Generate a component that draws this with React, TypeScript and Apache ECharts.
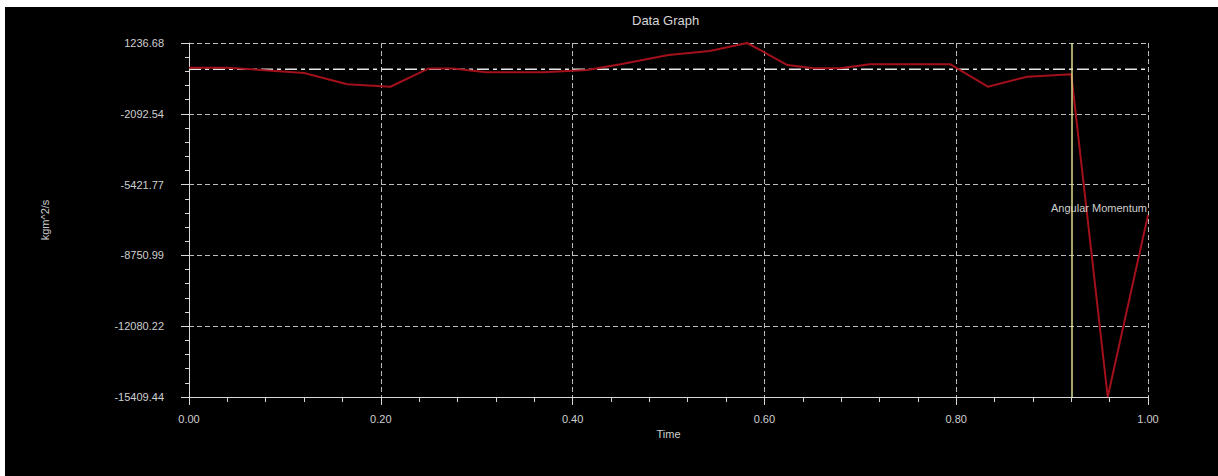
import { useEffect, useRef } from "react";
import * as echarts from "echarts";

// Time samples (s) and angular momentum readings (kg·m^2/s)
const times = [
  0, 0.04, 0.065, 0.12, 0.165, 0.21, 0.25, 0.275, 0.31, 0.37, 0.415, 0.45, 0.5,
  0.543, 0.582, 0.624, 0.651, 0.679, 0.71, 0.794, 0.833, 0.874, 0.92, 0.958, 1.0,
];
const momentum = [
  75, 70, 0, -170, -700, -820, 40, 40, -140, -140, -30, 235, 672, 860, 1236.68,
  200, 47, 47, 235, 235, -818, -348, -235, -15409.44, -6850,
];

// Axis extent: the y axis spans the data range in five equal steps
const yMin = -15409.44;
const yMax = 1236.68;
const yDivisions = 5;
const xTicks = { min: 0, max: 1, step: 0.2 };

const baselineValue = 0;
const cursorTime = 0.915;
const seriesName = "Angular Momentum";

const FONT = "Liberation Sans, Arial, sans-serif";
const TEXT = "#cfcfcf";

export default function App() {
  const ref = useRef<HTMLDivElement>(null);

  useEffect(() => {
    if (!ref.current) return;
    const chart = echarts.init(ref.current, null, { renderer: "svg" });

    // values are measured from the bottom of the y range so ticks start at yMin
    const span = yMax - yMin;
    const shift = (v: number) => v - yMin;
    const lineData = times.map((t, i) => [t, shift(momentum[i])]);

    chart.setOption({
      animation: false,
      backgroundColor: "#000000",
      title: {
        text: "Data Graph",
        left: 627,
        top: 7,
        padding: 0,
        textStyle: { color: "#d6d6d6", fontSize: 13, fontWeight: "normal", fontFamily: FONT },
      },
      grid: { left: 184, top: 36, width: 959, height: 354, containLabel: false },
      xAxis: {
        type: "value",
        min: xTicks.min,
        max: xTicks.max,
        interval: xTicks.step,
        offset: 5,
        name: "Time",
        nameLocation: "middle",
        nameGap: 26,
        nameTextStyle: { color: TEXT, fontSize: 11, fontFamily: FONT },
        axisLine: { show: true, lineStyle: { color: "#d8d8d8", width: 1 } },
        axisTick: { show: true, length: 8, lineStyle: { color: "#d8d8d8" } },
        minorTick: { show: true, splitNumber: 5, length: 5, lineStyle: { color: "#d8d8d8" } },
        axisLabel: {
          color: TEXT,
          fontSize: 11,
          fontFamily: FONT,
          margin: 11,
          formatter: (v: number) => v.toFixed(2),
        },
        splitLine: { show: true, lineStyle: { color: "#bdbdbd", type: [5, 3], width: 1 } },
      },
      yAxis: {
        type: "value",
        min: 0,
        max: span,
        interval: span / yDivisions,
        offset: 11,
        name: "kgm^2/s",
        nameLocation: "middle",
        nameGap: 128,
        nameTextStyle: { color: TEXT, fontSize: 11, fontFamily: FONT },
        axisLine: { show: true, lineStyle: { color: "#d8d8d8", width: 1 } },
        axisTick: { show: true, length: 8, lineStyle: { color: "#d8d8d8" } },
        minorTick: { show: true, splitNumber: 5, length: 4, lineStyle: { color: "#d8d8d8" } },
        axisLabel: {
          color: TEXT,
          fontSize: 11,
          fontFamily: FONT,
          margin: 14,
          formatter: (v: number) => (v + yMin).toFixed(2),
        },
        splitLine: { show: true, lineStyle: { color: "#bdbdbd", type: [5, 3], width: 1 } },
      },
      series: [
        {
          name: "baseline",
          type: "line",
          z: 1,
          silent: true,
          symbol: "none",
          data: [
            [xTicks.min, shift(baselineValue)],
            [xTicks.max, shift(baselineValue)],
          ],
          lineStyle: { color: "#e6e6e6", width: 1.5, type: [12, 4, 4, 4] },
        },
        {
          name: seriesName,
          type: "line",
          z: 2,
          symbol: "none",
          data: lineData,
          lineStyle: { color: "#a3101b", width: 2 },
          endLabel: {
            show: true,
            formatter: seriesName,
            align: "right",
            verticalAlign: "middle",
            distance: 0,
            offset: [-1, -7],
            color: TEXT,
            fontSize: 11,
            fontFamily: FONT,
          },
        },
        {
          name: "cursor",
          type: "line",
          z: 3,
          data: [],
          markLine: {
            silent: true,
            symbol: ["none", "none"],
            label: { show: false },
            lineStyle: { color: "#dede8e", width: 1.5, type: "solid" },
            data: [{ xAxis: cursorTime }],
          },
        },
      ],
    });

    return () => chart.dispose();
  }, []);

  return (
    <div
      ref={ref}
      style={{ position: "absolute", left: 5, top: 7, width: 1213, height: 469 }}
    />
  );
}
